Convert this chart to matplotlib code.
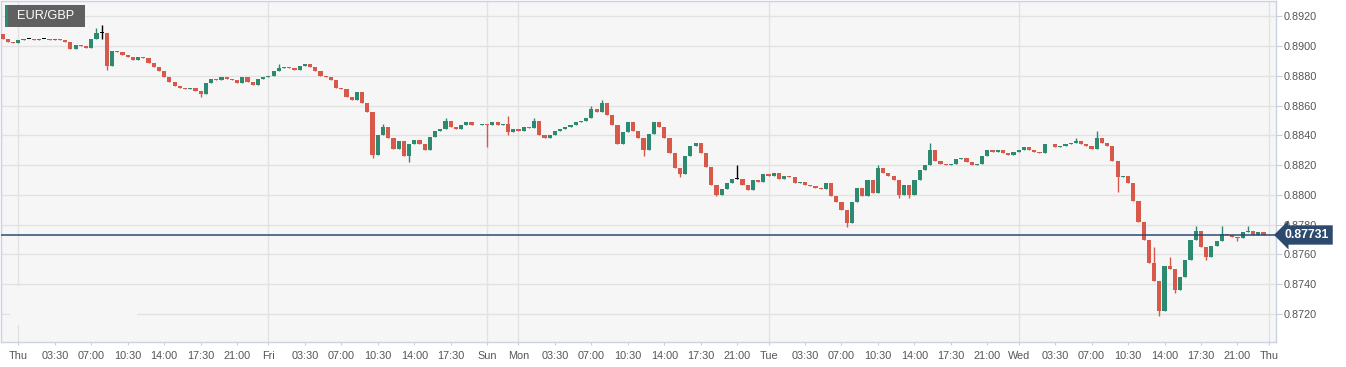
import numpy as np
import pandas as pd
import matplotlib.pyplot as plt
from matplotlib.patches import Rectangle
from matplotlib.transforms import blended_transform_factory

plt.rcParams['font.family'] = ['Liberation Sans', 'DejaVu Sans']

# 30-minute EUR/GBP closes (open = previous close)
first_open = 0.8908
closes = [
    0.8905, 0.8903, 0.8902, 0.8904, 0.8905, 0.8905, 0.8904, 0.8905, 0.8905, 0.8904,
    0.8905, 0.8904, 0.8903, 0.8898, 0.8901, 0.8900, 0.8899, 0.8905, 0.8909, 0.8909,
    0.8887, 0.8897, 0.8896, 0.8894, 0.8893, 0.8891, 0.8893, 0.8892, 0.8889, 0.8886,
    0.8883, 0.8879, 0.8876, 0.8873, 0.8872, 0.8871, 0.8872, 0.8870, 0.8868, 0.8875,
    0.8878, 0.8877, 0.8879, 0.8878, 0.8877, 0.8875, 0.8879, 0.8876, 0.8874, 0.8878,
    0.8879, 0.8880, 0.8883, 0.8885, 0.8886, 0.8885, 0.8884, 0.8887, 0.8888, 0.8886,
    0.8883, 0.8880, 0.8879, 0.8877, 0.8872, 0.8871, 0.8866, 0.8864, 0.8869, 0.8862,
    0.8856, 0.8827, 0.8840, 0.8846, 0.8838, 0.8831, 0.8836, 0.8826, 0.8834, 0.8837,
    0.8834, 0.8830, 0.8839, 0.8843, 0.8844, 0.8850, 0.8846, 0.8844, 0.8847, 0.8849,
    0.8847, 0.8847, 0.8848, 0.8847, 0.8849, 0.8847, 0.8848, 0.8842, 0.8844, 0.8843,
    0.8846, 0.8845, 0.8850, 0.8840, 0.8838, 0.8840, 0.8843, 0.8844, 0.8846, 0.8847,
    0.8849, 0.8850, 0.8852, 0.8858, 0.8856, 0.8862, 0.8854, 0.8847, 0.8834, 0.8842,
    0.8849, 0.8843, 0.8838, 0.8830, 0.8841, 0.8849, 0.8846, 0.8838, 0.8828, 0.8818,
    0.8814, 0.8826, 0.8833, 0.8835, 0.8828, 0.8819, 0.8807, 0.8800, 0.8804, 0.8808,
    0.8811, 0.8811, 0.8807, 0.8803, 0.8810, 0.8809, 0.8814, 0.8813, 0.8815, 0.8811,
    0.8813, 0.8812, 0.8808, 0.8809, 0.8807, 0.8806, 0.8805, 0.8804, 0.8808, 0.8799,
    0.8795, 0.8790, 0.8781, 0.8795, 0.8805, 0.8799, 0.8810, 0.8801, 0.8818, 0.8815,
    0.8813, 0.8810, 0.8800, 0.8807, 0.8800, 0.8810, 0.8817, 0.8820, 0.8830, 0.8823,
    0.8821, 0.8820, 0.8821, 0.8824, 0.8825, 0.8822, 0.8820, 0.8821, 0.8826, 0.8830,
    0.8829, 0.8830, 0.8828, 0.8827, 0.8829, 0.8830, 0.8832, 0.8830, 0.8829, 0.8828,
    0.8834, 0.8834, 0.8832, 0.8833, 0.8834, 0.8835, 0.8836, 0.8834, 0.8833, 0.8831,
    0.8838, 0.8835, 0.8833, 0.8823, 0.8812, 0.8813, 0.8808, 0.8796, 0.8782, 0.8770,
    0.8754, 0.8742, 0.8722, 0.8752, 0.8750, 0.8736, 0.8745, 0.8756, 0.8770, 0.8776,
    0.8765, 0.8758, 0.8766, 0.8769, 0.8774, 0.8773, 0.8772, 0.8771, 0.8775, 0.8776,
    0.8773, 0.8775, 0.87731,
]
# wick extremes that stick out beyond the bodies
spike_highs = {18: 0.8912, 19: 0.8914, 97: 0.8853, 115: 0.8864, 141: 0.8820,
               178: 0.8835, 210: 0.8843, 221: 0.8765, 224: 0.8758, 229: 0.8779,
               234: 0.8779, 239: 0.8779, 85: 0.8852, 102: 0.8852, 113: 0.8860,
               168: 0.8820, 73: 0.8848, 53: 0.8888, 206: 0.8838}
spike_lows = {19: 0.8905, 20: 0.8884, 38: 0.8866, 71: 0.8825, 78: 0.8822,
              93: 0.8832, 97: 0.8840, 123: 0.8826, 162: 0.87785, 214: 0.8802,
              222: 0.87187, 130: 0.8812, 137: 0.8799, 172: 0.8798, 174: 0.8798,
              225: 0.8734, 231: 0.8756, 237: 0.8769}
last_price = 0.87731
y_ticks = [0.8720, 0.8740, 0.8760, 0.8780, 0.8800, 0.8820, 0.8840, 0.8860,
           0.8880, 0.8900, 0.8920]

# trading-time index: Fri evening joins straight onto Sun evening
n_week1 = 93
times = list(pd.date_range('2020-01-01 22:30', periods=n_week1, freq='30min')) + \
    list(pd.date_range('2020-01-05 21:00', periods=len(closes) - n_week1 + 1, freq='30min'))

opens = [first_open] + closes[:-1]
highs = [max(o, c) for o, c in zip(opens, closes)]
lows = [min(o, c) for o, c in zip(opens, closes)]
for k, v in spike_highs.items():
    highs[k] = max(highs[k], v)
for k, v in spike_lows.items():
    lows[k] = min(lows[k], v)

W, H = 1346, 367
fig = plt.figure(figsize=(W / 100, H / 100), dpi=100)
fig.patch.set_facecolor('white')
ax = fig.add_axes([1 / W, 25.5 / H, 1274.7 / W, 341 / H])
ax.set_facecolor('#f6f6f6')
ax.set_axisbelow(True)

green, red = '#2b8a70', '#d8584a'
x = np.arange(len(closes))
cols = []
for o, c in zip(opens, closes):
    if abs(c - o) < 1e-7:
        cols.append('black')
    else:
        cols.append(green if c > o else red)
ax.vlines(x, lows, highs, colors=cols, linewidth=1, zorder=3)
bottoms = [min(o, c) for o, c in zip(opens, closes)]
heights = [max(abs(c - o), 0.00002) for o, c in zip(opens, closes)]
ax.bar(x, heights, bottom=bottoms, width=0.8, color=cols, linewidth=0, zorder=4)

# current price line and its label
ax.axhline(last_price, color='#2c4a72', linewidth=1.1, zorder=5)
tr = blended_transform_factory(ax.transAxes, ax.transData)
ax.text(1 + 9 / 1274.7, last_price, f'{last_price:.5f}', transform=tr,
        ha='left', va='center', color='white', fontsize=8.8, fontweight='bold',
        bbox=dict(boxstyle='larrow,pad=0.3', fc='#2c4a6e', ec='none'),
        clip_on=False, zorder=6)

# axis ticks: day names at midnight / Sunday open, HH:MM every 3.5 h
tick_pos, tick_lab = [], []
for i, t in enumerate(times):
    mins = t.hour * 60 + t.minute
    if i == n_week1:
        tick_pos.append(i); tick_lab.append('Sun')
    elif mins == 0:
        tick_pos.append(i); tick_lab.append(t.strftime('%a'))
    elif mins in (210, 420, 630, 840, 1050, 1260):
        tick_pos.append(i); tick_lab.append(t.strftime('%H:%M'))
day_pos = [p for p, l in zip(tick_pos, tick_lab) if ':' not in l]
for p in day_pos:
    ax.axvline(p, color='#e2e2e2', linewidth=1, zorder=0.6)

ax.set_xticks(tick_pos)
ax.set_xticklabels(tick_lab)
ax.set_yticks(y_ticks)
ax.set_yticklabels([f'{v:.4f}' for v in y_ticks])
ax.yaxis.tick_right()
ax.yaxis.grid(True, color='#e2e2e2', linewidth=1)
ax.tick_params(axis='y', length=4, width=0.8, color='#c9cde0', pad=2,
               labelsize=7.8, labelcolor='#555555')
ax.tick_params(axis='x', length=2.5, width=0.8, color='#c9cde0', pad=4,
               labelsize=7.8, labelcolor='#555555')
for s in ax.spines.values():
    s.set_color('#cdd1e4')
    s.set_linewidth(1)

ax.set_xlim(-0.32, 244.34)
ax.set_ylim(0.87015, 0.89307)

# faint watermark patch in the lower-left corner
ax.add_patch(Rectangle((1.4, 0.87126), 24.4, 0.00262, facecolor='#f6f6f6',
                       edgecolor='none', zorder=1))

# symbol tag
fig.patches.append(Rectangle((5 / W, 1 - 27 / H), 80 / W, 22 / H,
                             transform=fig.transFigure, facecolor='#606060',
                             edgecolor='none', zorder=10))
fig.patches.append(Rectangle((5 / W, 1 - 27 / H), 3 / W, 22 / H,
                             transform=fig.transFigure, facecolor='#2b8a70',
                             edgecolor='none', zorder=11))
fig.text(46 / W, 1 - 16 / H, 'EUR/GBP', ha='center', va='center',
         color='white', fontsize=9.2, zorder=12)

fig.savefig('out.png', dpi=100)
